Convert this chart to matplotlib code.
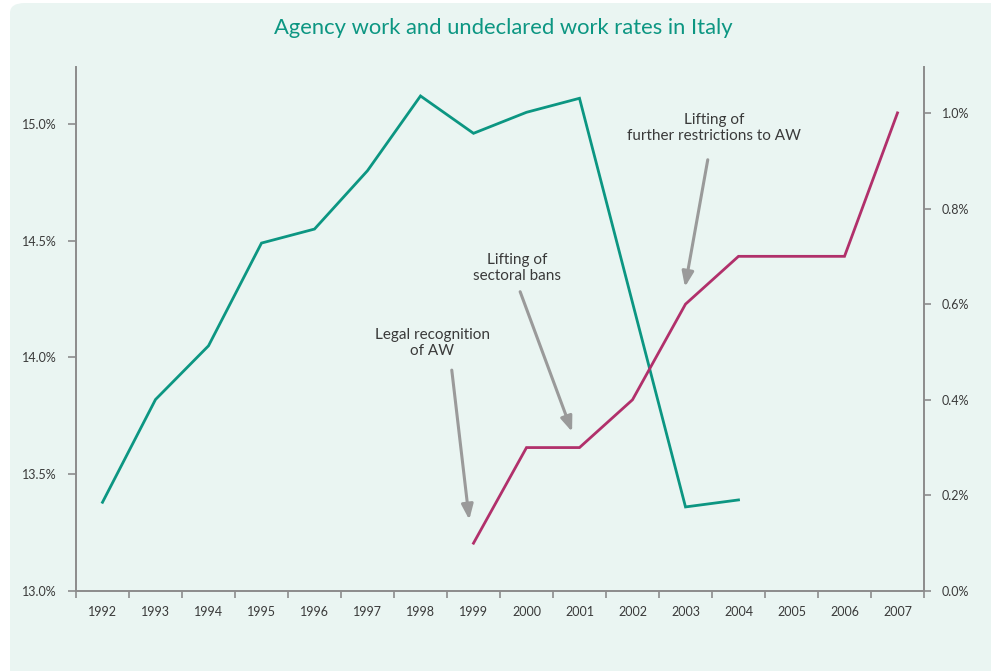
import numpy as np
import matplotlib.pyplot as plt
from matplotlib.patches import FancyBboxPatch
from matplotlib.ticker import FuncFormatter, FixedLocator

plt.rcParams['font.family'] = ['Lato', 'DejaVu Sans']

# Years on the category axis
years = list(range(1992, 2008))

# Undeclared work rate (left axis, %); no observation for 2002
undeclared_years = [1992, 1993, 1994, 1995, 1996, 1997, 1998, 1999, 2000, 2001, 2003, 2004]
undeclared_rate = [13.38, 13.82, 14.05, 14.49, 14.55, 14.80, 15.12, 14.96, 15.05, 15.11, 13.36, 13.39]

# Agency work rate (right axis, %)
agency_years = [1999, 2000, 2001, 2002, 2003, 2004, 2005, 2006, 2007]
agency_rate = [0.10, 0.30, 0.30, 0.40, 0.60, 0.70, 0.70, 0.70, 1.00]

teal = '#0c9682'
magenta = '#b1306b'
grey = '#8c8c8c'
text_col = '#3a3a3a'
bg = '#eaf5f2'

fig = plt.figure(figsize=(9.91, 6.71), dpi=100)
fig.patch.set_facecolor('white')

# Rounded light panel behind the chart
panel = FancyBboxPatch((10 / 991, -0.05), 1.05, 1.05 - 3 / 671,
                       boxstyle='round,pad=0,rounding_size=0.015',
                       transform=fig.transFigure, facecolor=bg, edgecolor='none', zorder=-5)
fig.patches.append(panel)

ax = fig.add_axes([76 / 991, 1 - 591 / 671, (924 - 76) / 991, (591 - 67) / 671])
ax.set_facecolor('none')
ax2 = ax.twinx()
ax2.set_facecolor('none')

idx = {y: i for i, y in enumerate(years)}

ax.plot([idx[y] for y in undeclared_years], undeclared_rate, color=teal, lw=2.0,
        solid_joinstyle='miter', zorder=3)
ax2.plot([idx[y] for y in agency_years], agency_rate, color=magenta, lw=2.0,
         solid_joinstyle='miter', zorder=3)

ax.set_xlim(-0.5, len(years) - 0.5)
ax.set_ylim(13.0, 15.244)
ax2.set_ylim(0.0, 1.096)

ax.set_yticks([13.0, 13.5, 14.0, 14.5, 15.0])
ax2.set_yticks([0.0, 0.2, 0.4, 0.6, 0.8, 1.0])
ax.yaxis.set_major_formatter(FuncFormatter(lambda v, p: f'{v:.1f}%'))
ax2.yaxis.set_major_formatter(FuncFormatter(lambda v, p: f'{v:.1f}%'))

# year labels centred on each category, tick marks between them
ax.set_xticks(range(len(years)))
ax.set_xticklabels([str(y) for y in years])
ax.xaxis.set_minor_locator(FixedLocator(np.arange(-0.5, len(years), 1.0)))
ax.tick_params(axis='x', which='major', length=0, pad=11, labelsize=9, labelcolor=text_col)
ax.tick_params(axis='x', which='minor', length=5, width=1.2, color=grey, direction='out')
ax.tick_params(axis='y', length=6, width=1.2, color=grey, pad=8, labelsize=9, labelcolor=text_col)
ax2.tick_params(axis='y', length=5, width=1.2, color=grey, pad=8, labelsize=9, labelcolor=text_col)

for a in (ax, ax2):
    a.spines['top'].set_visible(False)
    for s in ('left', 'right', 'bottom'):
        a.spines[s].set_color(grey)
        a.spines[s].set_linewidth(1.4)
ax.spines['right'].set_visible(False)
ax2.spines['left'].set_visible(False)
ax2.spines['bottom'].set_visible(False)

fig.text(0.508, 1 - 28 / 671, 'Agency work and undeclared work rates in Italy',
         ha='center', va='center', color=teal, fontsize=15.8)

# Policy milestones
arrow_kw = dict(arrowstyle='-|>,head_length=0.9,head_width=0.35', color='#9a9a9a',
                lw=2.2, shrinkA=0, shrinkB=0)
notes = [
    ('Legal recognition\nof AW', (6.22, 0.519), (6.59, 0.462), (6.92, 0.149)),
    ('Lifting of\nsectoral bans', (7.82, 0.676), (7.88, 0.626), (8.86, 0.333)),
    ('Lifting of\nfurther restrictions to AW', (11.54, 0.969), (11.42, 0.902), (10.99, 0.636)),
]
for label, txt_pos, tail, tip in notes:
    ax2.text(*txt_pos, label, ha='center', va='center', fontsize=11, color=text_col,
             linespacing=1.15)
    ax2.annotate('', xy=tip, xytext=tail, arrowprops=arrow_kw)

fig.savefig('out.png', dpi=100, facecolor=fig.get_facecolor())
